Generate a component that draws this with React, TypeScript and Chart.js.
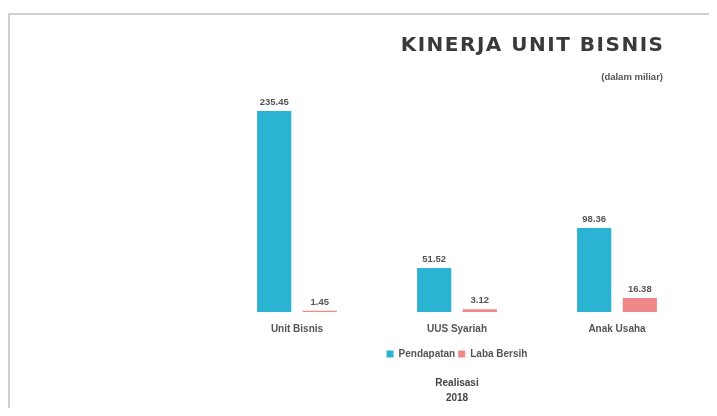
import { useEffect, useRef } from "react";
import { Chart, registerables } from "chart.js";

Chart.register(...registerables);

const categories = ["Unit Bisnis", "UUS Syariah", "Anak Usaha"];
const seriesNames = ["Pendapatan", "Laba Bersih"];
const pendapatan = [235.45, 51.52, 98.36];
const labaBersih = [1.45, 3.12, 16.38];
const chartTitle = "KINERJA UNIT BISNIS";
const unitNote = "(dalam miliar)";
const footerTitle = ["Realisasi", "2018"];

const BLUE = "#2bb3d4";
const RED = "#f0878b";
const FONT = "'Liberation Sans', Arial, sans-serif";

const valueLabels = {
  id: "valueLabels",
  afterDatasetsDraw(chart: any) {
    const ctx = chart.ctx;
    ctx.save();
    ctx.font = `bold 9.5px ${FONT}`;
    ctx.fillStyle = "#555";
    ctx.textAlign = "center";
    ctx.textBaseline = "bottom";
    chart.data.datasets.forEach((ds: any, i: number) => {
      const meta = chart.getDatasetMeta(i);
      meta.data.forEach((el: any, j: number) => {
        ctx.fillText(Number(ds.data[j]).toFixed(2), el.x, el.y - 4);
      });
    });
    ctx.restore();
  },
};

const headerTitle = {
  id: "headerTitle",
  afterDraw(chart: any) {
    const ctx = chart.ctx;
    const right = chart.chartArea.right - 34;
    ctx.save();
    ctx.textAlign = "right";
    ctx.textBaseline = "middle";
    ctx.fillStyle = "#3a3a3a";
    ctx.font = "bold 20px 'DejaVu Sans', Arial, sans-serif";
    (ctx as any).letterSpacing = "1.5px";
    ctx.fillText(chartTitle, right + 1.5, 31);
    (ctx as any).letterSpacing = "0px";
    ctx.font = `bold 9.5px ${FONT}`;
    ctx.fillStyle = "#555";
    ctx.fillText(unitNote, right, 62);
    ctx.restore();
  },
};

export default function App() {
  const ref = useRef<HTMLCanvasElement | null>(null);
  useEffect(() => {
    if (!ref.current) return;
    const chart = new Chart(ref.current, {
      type: "bar",
      data: {
        labels: categories,
        datasets: [
          {
            label: seriesNames[0],
            data: pendapatan,
            backgroundColor: BLUE,
            categoryPercentage: 0.57,
            barPercentage: 0.75,
          },
          {
            label: seriesNames[1],
            data: labaBersih,
            backgroundColor: RED,
            categoryPercentage: 0.57,
            barPercentage: 0.75,
          },
        ],
      },
      options: {
        animation: false,
        responsive: false,
        maintainAspectRatio: false,
        layout: { padding: { left: 207, right: 13, top: 75, bottom: 2 } },
        scales: {
          x: {
            grid: { display: false, drawTicks: false },
            border: { display: false },
            ticks: {
              color: "#555",
              padding: 11,
              font: { family: FONT, size: 10, weight: "bold" },
            },
          },
          y: { display: false, min: 0, max: 260 },
        },
        plugins: {
          legend: {
            position: "bottom",
            labels: {
              boxWidth: 7,
              boxHeight: 7,
              padding: 3,
              color: "#555",
              font: { family: FONT, size: 10, weight: "bold" },
            },
          },
          title: {
            display: true,
            position: "bottom",
            text: footerTitle,
            color: "#444",
            padding: { top: 7, bottom: 0 },
            font: { family: FONT, size: 10, weight: "bold", lineHeight: 1.5 },
          },
          tooltip: { enabled: false },
        },
      },
      plugins: [valueLabels, headerTitle],
    });
    return () => chart.destroy();
  }, []);

  return (
    <div style={{ paddingTop: 5 }}>
      <div
        style={{
          width: 704,
          height: 395,
          boxSizing: "border-box",
          border: "2px solid #cfcfcf",
          borderBottom: "none",
          background: "#fff",
        }}
      >
        <canvas ref={ref} width={700} height={393} style={{ display: "block" }} />
      </div>
    </div>
  );
}
